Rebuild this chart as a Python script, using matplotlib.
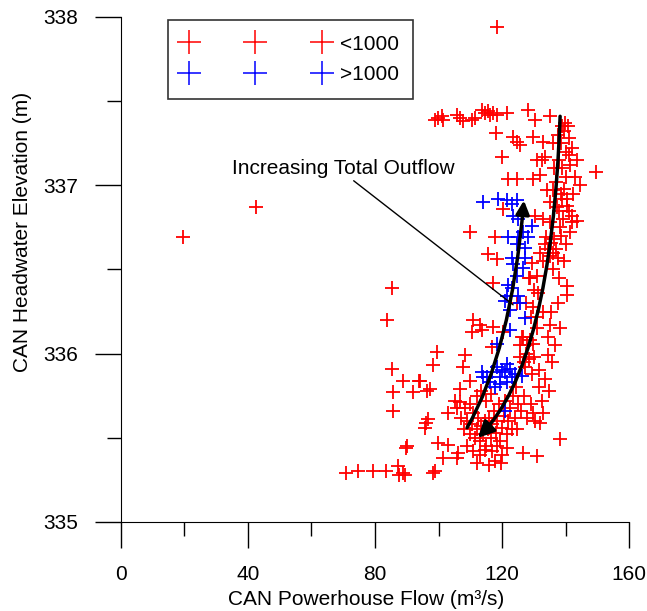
import matplotlib
matplotlib.use("Agg")
import matplotlib.pyplot as plt
from matplotlib.ticker import MultipleLocator

plt.rcParams['font.family'] = ['Liberation Sans', 'DejaVu Sans']

# powerhouse flow (m3/s) and headwater elevation (m), total outflow < 1000
low_x = [118.4, 42.5, 19.5, 85.4, 83.8, 85.4, 88.8, 93.9, 85.7, 92.0,
         96.4, 85.7, 96.0, 95.7, 89.8, 70.9, 74.7, 79.4, 83.5, 87.2,
         87.6, 89.4, 88.8, 98.3, 98.9, 99.5, 108.3, 98.3, 107.7, 94.2,
         109.9, 97.3, 106.8, 96.7, 103.0, 105.2, 106.8, 105.8, 99.8, 103.0,
         90.0, 101.4, 106.1, 105.8,
         # top row
         98.9, 99.9, 101.0, 101.4, 105.7, 106.8, 107.8, 110.4, 111.5, 113.6,
         114.6, 115.7, 116.2, 117.3, 118.3, 121.5, 128.3, 130.4, 135.1, 139.8,
         118.1, 123.6, 124.6, 125.7, 129.9, 133.0, 119.9, 124.6, 122.0, 129.8,
         130.9, 132.5, 133.5, 132.0, 134.1, 136.0, 136.2, 149.5, 142.0,
         # right column
         137.5, 138.5, 139.5, 140.2, 141.0, 138.0, 139.0, 140.0, 141.5, 142.0,
         143.0, 139.5, 140.5, 142.5, 137.0, 138.5, 141.0, 143.5, 144.5, 139.0,
         140.8, 136.5, 137.8, 139.2, 141.2, 142.2, 138.5, 140.0, 141.5, 137.0,
         139.5, 136.0, 138.0, 140.5, 137.5, 135.5, 138.2, 136.6, 134.5, 135.8,
         133.5, 134.8, 132.6, 131.5, 133.0,
         # between the arrows
         128.5, 130.0, 127.5, 129.0, 131.0, 126.5, 128.0, 130.0, 125.7, 127.2,
         129.3, 131.8, 124.5, 127.0, 129.0, 126.0, 128.0, 130.5, 124.8,
         125.7, 126.4, 127.5, 128.5, 129.8, 126.8, 128.9,
         # bottom cluster
         108.0, 109.0, 110.0, 110.5, 111.0, 111.5, 112.0, 112.5, 113.0, 113.5,
         114.0, 114.5, 115.0, 115.5, 116.0, 116.5, 117.0, 117.5, 118.0, 118.5,
         119.0, 119.5, 120.0, 120.5, 121.0, 121.5, 122.0, 122.5, 123.0, 123.5,
         124.0, 125.0, 110.0, 112.0, 113.5, 115.0, 116.5, 109.0, 111.0, 113.0,
         114.5, 117.0, 118.5, 120.0, 121.5, 107.0, 108.5, 117.8, 115.8, 119.8,
         112.2, 126.6, 131.0, 138.3, 129.8, 132.0,
         # middle left
         110.9, 113.0, 110.5, 113.6, 117.2, 120.3, 116.9,
         120.3, 109.9, 117.8, 115.6, 118.4, 117.2,
         # right of the right arrow
         131.0, 133.0, 135.1, 134.5, 129.8, 124.7, 140.5, 131.3, 130.4, 129.4,
         128.8, 131.0, 135.1, 137.3, 140.5, 138.9, 135.1, 138.3, 133.0, 143.6,
         132.0, 133.5, 135.0, 136.5, 133.0, 134.5, 136.0, 137.5, 134.0, 135.5]
low_y = [337.94, 336.87, 336.69, 336.39, 336.20, 335.91, 335.84, 335.84, 335.77, 335.77,
         335.78, 335.66, 335.59, 335.56, 335.44, 335.29, 335.30, 335.30, 335.30, 335.33,
         335.28, 335.28, 335.29, 335.29, 335.30, 336.01, 335.99, 335.93, 335.92, 335.84,
         335.84, 335.79, 335.79, 335.61, 335.65, 335.72, 335.71, 335.68, 335.47, 335.46,
         335.45, 335.38, 335.41, 335.38,
         337.39, 337.40, 337.41, 337.39, 337.42, 337.40, 337.38, 337.39, 337.40, 337.45,
         337.43, 337.44, 337.42, 337.43, 337.42, 337.43, 337.45, 337.39, 337.41, 337.37,
         337.31, 337.29, 337.26, 337.24, 337.29, 337.26, 337.17, 337.04, 337.04, 337.04,
         337.15, 337.15, 337.17, 337.06, 336.97, 336.97, 337.25, 337.08, 336.82,
         337.30, 337.25, 337.32, 337.20, 337.28, 337.15, 337.10, 337.05, 337.12, 337.22,
         337.05, 336.98, 336.92, 336.95, 337.02, 336.95, 337.18, 337.15, 337.00, 337.35,
         337.35, 337.10, 336.85, 336.80, 336.85, 336.78, 336.70, 336.65, 336.72, 336.62,
         336.55, 336.50, 336.45, 336.40, 336.30, 336.25, 336.15, 336.05, 336.10, 335.95,
         335.85, 335.78, 335.72, 335.80, 335.65,
         336.45, 336.38, 336.30, 336.22, 336.15, 336.10, 336.05, 335.98, 335.98, 335.92,
         335.88, 335.90, 335.80, 335.75, 335.70, 335.66, 335.62, 335.60, 335.55,
         336.05, 336.10, 336.00, 335.97, 336.06, 335.95, 336.08,
         335.55, 335.60, 335.52, 335.58, 335.65, 335.50, 335.55, 335.62, 335.48, 335.57,
         335.52, 335.60, 335.45, 335.55, 335.62, 335.50, 335.58, 335.66, 335.53, 335.60,
         335.70, 335.48, 335.56, 335.63, 335.72, 335.52, 335.60, 335.68, 335.55, 335.75,
         335.62, 335.70, 335.70, 335.75, 335.78, 335.72, 335.76, 335.45, 335.42, 335.40,
         335.43, 335.42, 335.45, 335.40, 335.44, 335.62, 335.68, 335.36, 335.34, 335.35,
         335.35, 335.41, 335.39, 335.49, 335.65, 335.59,
         336.20, 336.17, 336.13, 336.14, 336.16, 336.13, 336.04,
         336.86, 336.72, 336.69, 336.59, 336.56, 336.42,
         336.22, 336.25, 336.17, 335.99, 336.28, 336.30, 336.35, 336.36, 336.82, 336.54,
         336.45, 336.46, 336.90, 336.87, 336.88, 336.92, 336.78, 336.75, 336.80, 336.79,
         336.60, 336.65, 336.58, 336.68, 336.55, 336.62, 336.60, 336.57, 336.69, 336.66]

# total outflow > 1000
high_x = [114.0, 118.8, 121.5, 123.1, 124.6, 123.5, 125.0, 129.4, 121.9, 125.0,
          126.6, 128.2, 124.7, 127.3, 123.1, 127.3, 123.5, 126.6, 124.7, 121.9,
          123.1, 121.6, 125.0, 121.0, 122.5, 125.7, 127.3, 122.5, 118.4, 113.6,
          115.2, 116.8, 118.3, 119.9, 119.4, 120.9, 121.5, 122.5, 123.0, 116.2,
          119.4, 121.5, 124.1, 126.2, 117.8, 114.1, 120.9]
high_y = [336.90, 336.92, 336.91, 336.89, 336.91, 336.82, 336.80, 336.76, 336.69, 336.69,
          336.72, 336.69, 336.65, 336.63, 336.57, 336.57, 336.53, 336.51, 336.46, 336.41,
          336.39, 336.34, 336.34, 336.31, 336.26, 336.30, 336.21, 336.14, 336.06, 335.89,
          335.86, 335.89, 335.92, 335.90, 335.86, 335.89, 335.94, 335.91, 335.86, 335.83,
          335.82, 335.83, 335.88, 335.87, 335.80, 335.86, 335.66]

series_labels = ['<1000', '>1000']

fig = plt.figure(figsize=(6.47, 6.11), dpi=100)
ax = fig.add_axes([0.187, 0.1457, 0.7852, 0.8265])

ax.plot(low_x, low_y, linestyle='none', marker='+', color='#ff0000',
        markersize=9.8, markeredgewidth=1.3, label=series_labels[0])
ax.plot(high_x, high_y, linestyle='none', marker='+', color='#0000ff',
        markersize=9.8, markeredgewidth=1.3, label=series_labels[1])

# curved arrows
ax.annotate('', xy=(126.9, 336.91), xytext=(109.0, 335.56),
            arrowprops=dict(arrowstyle='-|>', connectionstyle='angle3,angleA=60,angleB=85',
                            lw=2.5, color='black', shrinkA=0, shrinkB=0, mutation_scale=20))
ax.annotate('', xy=(112.4, 335.50), xytext=(138.3, 337.41),
            arrowprops=dict(arrowstyle='-|>', connectionstyle='angle3,angleA=-92,angleB=45',
                            lw=2.5, color='black', shrinkA=0, shrinkB=0, mutation_scale=24))

ax.annotate('Increasing Total Outflow', xy=(123.5, 336.29), xytext=(35.0, 337.10),
            fontsize=15, va='center', ha='left',
            arrowprops=dict(arrowstyle='-', lw=1, color='black', shrinkA=0, shrinkB=0,
                            relpos=(0.53, 0.0)))

ax.set_xlim(0, 160)
ax.set_ylim(335, 338)
ax.xaxis.set_major_locator(MultipleLocator(40))
ax.xaxis.set_minor_locator(MultipleLocator(20))
ax.yaxis.set_major_locator(MultipleLocator(1))
ax.yaxis.set_minor_locator(MultipleLocator(0.5))
ax.tick_params(which='major', direction='out', length=19, width=1, labelsize=15, pad=12)
ax.tick_params(which='minor', direction='out', length=10, width=1)
ax.spines['top'].set_visible(False)
ax.spines['right'].set_visible(False)

ax.set_xlabel('CAN Powerhouse Flow (m³/s)', fontsize=15)
ax.set_ylabel('CAN Headwater Elevation (m)', fontsize=15)
ax.xaxis.set_label_coords(0.482, -0.135)
ax.yaxis.set_label_coords(-0.175, 0.574)

leg = ax.legend(loc='upper left', bbox_to_anchor=(0.0925, 0.994), numpoints=3,
                markerscale=1.7, handlelength=7, handletextpad=0.55, borderpad=0.7,
                labelspacing=0.55, borderaxespad=0, fontsize=15, fancybox=False,
                framealpha=1)
leg.get_frame().set_edgecolor('#333333')
leg.get_frame().set_linewidth(1.2)
for h in leg.get_lines():
    h.set_markeredgewidth(1.1)

fig.savefig('out.png', dpi=100)
